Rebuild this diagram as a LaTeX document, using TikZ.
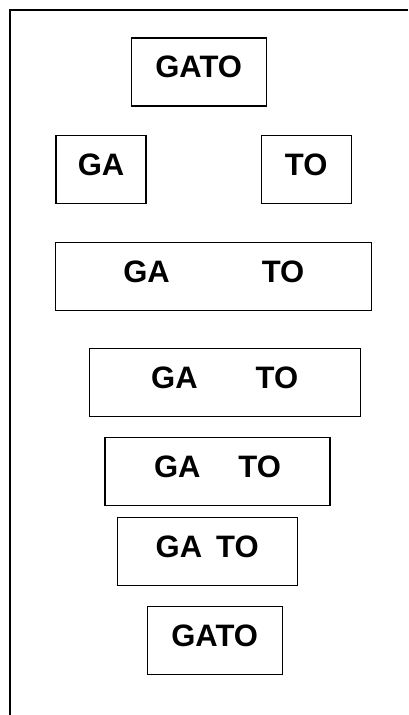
\documentclass[tikz,border=0pt]{standalone}
\usepackage{fontspec}
\setmainfont{Liberation Sans}
\usetikzlibrary{positioning}

\tikzset{
  word/.style={draw, line width=1.2pt, inner sep=0pt, text depth=10pt,
    minimum height=68, font=\bfseries\fontsize{31}{36}\selectfont}
}

\begin{document}
\begin{tikzpicture}[x=1pt, y=-1pt]
				\useasboundingbox (0,0) rectangle (408,715);
				\coordinate (fr1) at (408,10);
				\coordinate (fr2) at (10,10);
				\coordinate (fr3) at (10,715);
				\draw[line width=2pt] (fr1) -- (fr2) -- (fr3);
				\node[word, minimum width=135] (gato1) at (198.7,72) {GATO};
				\node[word, minimum width=90] (ga) at (101,169.5) {GA};
				\node[word, minimum width=90] (to) at (306.2,169.5) {TO};
				\node[word, minimum width=316] (sep1) at (213.8,276.7) {GA\hspace{92pt}TO};
				\node[word, minimum width=271] (sep2) at (224.7,382.5) {GA\hspace{58pt}TO};
				\node[word, minimum width=225] (sep3) at (217.5,471.2) {GA\hspace{38pt}TO};
				\node[word, minimum width=180] (sep4) at (207.2,551.8) {GA\hspace{14pt}TO};
				\node[word, minimum width=135] (gato2) at (214.7,640.5) {GATO};
			\end{tikzpicture}
\end{document}
